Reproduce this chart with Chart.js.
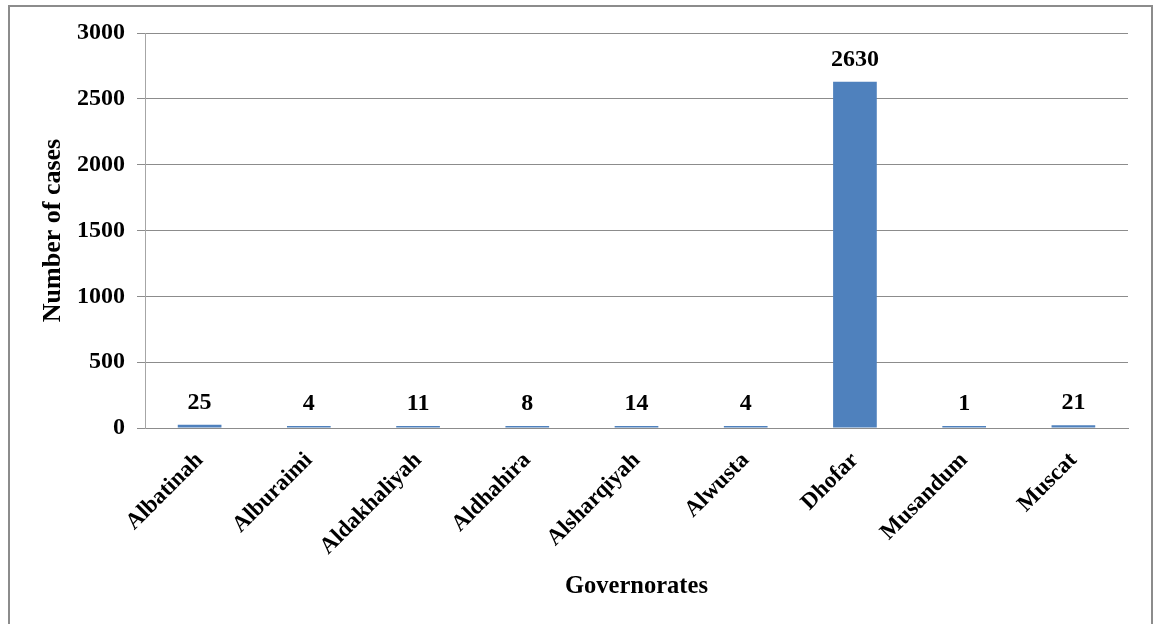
<!DOCTYPE html>
<html>
<head>
<meta charset="utf-8">
<script src="https://cdn.jsdelivr.net/npm/chart.js@4.4.1/dist/chart.umd.min.js"></script>
<style>
  html, body { margin: 0; padding: 0; background: #ffffff; overflow: hidden; }
  #frame { position: absolute; left: 8px; top: 5px; width: 1141px; height: 700px; border: 2px solid #8c8c8c; }
  #chart { position: absolute; left: 0; top: 0; }
</style>
</head>
<body>
<div id="frame"></div>
<canvas id="chart" width="1157" height="624"></canvas>
<script>
// Cases per governorate
const governorates = ['Albatinah', 'Alburaimi', 'Aldakhaliyah', 'Aldhahira', 'Alsharqiyah', 'Alwusta', 'Dhofar', 'Musandum', 'Muscat'];
const cases = [25, 4, 11, 8, 14, 4, 2630, 1, 21];
const yTickValues = [0, 500, 1000, 1500, 2000, 2500, 3000];

const serif = "'Liberation Serif', 'Times New Roman', serif";
const gridGray = '#8c8c8c';

// Writes each bar's value above it
const valueLabels = {
  id: 'valueLabels',
  afterDatasetsDraw(chart) {
    const ctx = chart.ctx;
    const meta = chart.getDatasetMeta(0);
    const values = chart.data.datasets[0].data;
    ctx.save();
    ctx.font = 'bold 24px ' + serif;
    ctx.fillStyle = '#000000';
    ctx.textAlign = 'center';
    ctx.textBaseline = 'alphabetic';
    meta.data.forEach((bar, i) => {
      ctx.fillText(String(values[i]), bar.x, bar.y - 16);
    });
    ctx.restore();
  }
};

new Chart(document.getElementById('chart'), {
  type: 'bar',
  data: {
    labels: governorates,
    datasets: [{
      data: cases,
      backgroundColor: '#4f81bd',
      borderWidth: 0,
      barPercentage: 0.4,
      categoryPercentage: 1.0,
      minBarLength: 2
    }]
  },
  options: {
    responsive: false,
    animation: false,
    devicePixelRatio: 1,
    layout: { padding: { left: 34, top: 33, right: 29, bottom: 19 } },
    plugins: {
      legend: { display: false },
      tooltip: { enabled: false }
    },
    scales: {
      x: {
        grid: { display: false, drawTicks: false },
        border: { display: true, color: gridGray, width: 1 },
        ticks: {
          color: '#000000',
          font: { family: serif, size: 23, weight: 'bold' },
          minRotation: 45,
          maxRotation: 45,
          autoSkip: false,
          padding: 19
        },
        title: {
          display: true,
          text: 'Governorates',
          color: '#000000',
          font: { family: serif, size: 24.5, weight: 'bold' }
        },
        afterFit(scale) { scale.height = 177; }
      },
      y: {
        min: 0,
        max: 3000,
        afterBuildTicks(scale) { scale.ticks = yTickValues.map(v => ({ value: v })); },
        grid: { color: gridGray, lineWidth: 1, tickLength: 8 },
        border: { display: true, color: '#a6a6a6', width: 1 },
        ticks: {
          color: '#000000',
          font: { family: serif, size: 24, weight: 'bold' },
          padding: 12,
          callback: (v) => String(v)
        },
        title: {
          display: true,
          text: 'Number of cases',
          color: '#000000',
          font: { family: serif, size: 26, weight: 'bold' }
        },
        afterFit(scale) { scale.width = 111; }
      }
    }
  },
  plugins: [valueLabels]
});
</script>
</body>
</html>
